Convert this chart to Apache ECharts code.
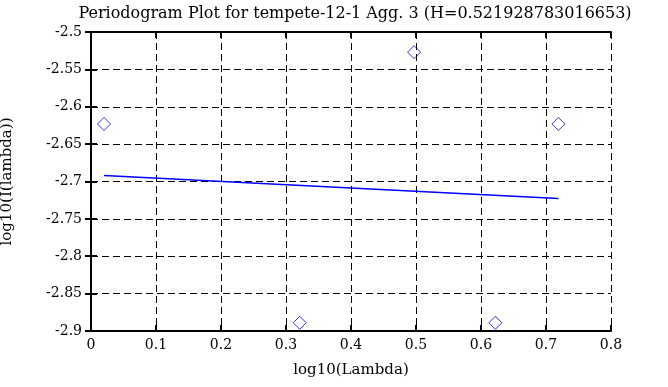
<!DOCTYPE html>
<html><head><meta charset="utf-8">
<script src="https://cdn.jsdelivr.net/npm/echarts@6/dist/echarts.min.js"></script>
<style>html,body{margin:0;padding:0;background:#fff}#c{width:668px;height:387px}</style>
</head><body><div id="c"></div>
<script>
const titleText = 'Periodogram Plot for tempete-12-1 Agg. 3 (H=0.521928783016653)';
const logLambda = [0.0200, 0.3211, 0.4971, 0.6221, 0.7190];
const logI = [-2.623, -2.889, -2.527, -2.889, -2.623];
const fitX = [0.0200, 0.7190];
const fitY = [-2.692, -2.7227];
const xTicks = [0, 0.1, 0.2, 0.3, 0.4, 0.5, 0.6, 0.7, 0.8];
const yTicks = [-2.9, -2.85, -2.8, -2.75, -2.7, -2.65, -2.6, -2.55, -2.5];

const font = 'DejaVu Serif';
const chart = echarts.init(document.getElementById('c'), null, {renderer: 'canvas'});
const axisLine = {show: true, lineStyle: {color: '#000', width: 2}};
const tick = {show: true, inside: true, length: 6, lineStyle: {color: '#000', width: 2}};
const grid = {show: true, lineStyle: {color: '#000', width: 1, type: [7, 4]}};
chart.setOption({
  animation: false,
  backgroundColor: '#fff',
  title: {text: titleText, left: 350, top: 1, textAlign: 'center',
    textStyle: {fontFamily: font, fontSize: 16, fontWeight: 'normal', color: '#000'}},
  grid: {left: 91, right: 57, top: 32, bottom: 56, containLabel: false, outerBoundsMode: 'none'},
  xAxis: [
    {type: 'value', min: 0, max: 0.8, interval: 0.1, position: 'bottom',
     name: 'log10(Lambda)', nameLocation: 'middle', nameGap: 32,
     nameTextStyle: {fontFamily: font, fontSize: 15, color: '#000'},
     axisLine, axisTick: tick, splitLine: grid,
     axisLabel: {fontFamily: font, fontSize: 14, color: '#000', margin: 7,
       formatter: v => String(xTicks.find(t => Math.abs(t - v) < 1e-9) ?? v)}},
    {type: 'value', min: 0, max: 0.8, interval: 0.1, position: 'top',
     axisLine, axisTick: tick, splitLine: {show: false}, axisLabel: {show: false}}
  ],
  yAxis: [
    {type: 'value', min: -2.9, max: -2.5, interval: 0.05, position: 'left',
     name: 'log10(I(lambda))', nameLocation: 'middle', nameGap: 76,
     nameTextStyle: {fontFamily: font, fontSize: 15, color: '#000'},
     axisLine, axisTick: tick, splitLine: grid,
     axisLabel: {fontFamily: font, fontSize: 14, color: '#000', margin: 9,
       formatter: v => String(yTicks.find(t => Math.abs(t - v) < 1e-9) ?? v)}},
    {type: 'value', min: -2.9, max: -2.5, interval: 0.05, position: 'right',
     axisLine, axisTick: tick, splitLine: {show: false}, axisLabel: {show: false}}
  ],
  series: [
    {type: 'line', data: fitX.map((x, i) => [x, fitY[i]]), showSymbol: false, symbol: 'none',
     lineStyle: {color: '#0000ff', width: 1.5}, z: 3},
    {type: 'scatter', data: logLambda.map((x, i) => [x, logI[i]]), symbol: 'diamond', symbolSize: [13, 13],
     itemStyle: {color: 'transparent', borderColor: '#0000ff', borderWidth: 1}, z: 4}
  ]
});
</script></body></html>
